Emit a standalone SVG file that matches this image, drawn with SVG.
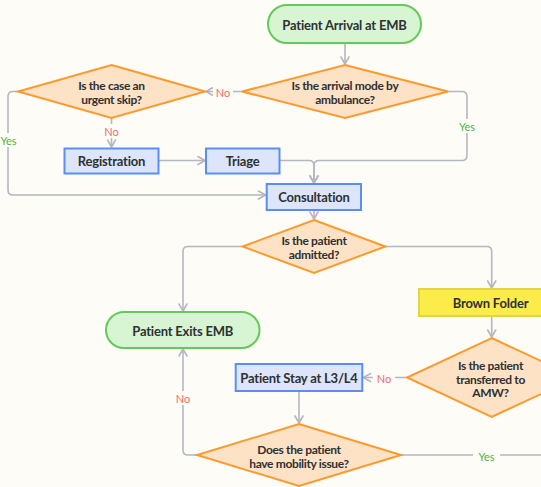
<svg xmlns="http://www.w3.org/2000/svg" width="541" height="487" viewBox="0 0 541 487">
<defs>
<marker id="arr" viewBox="0 0 10 10" refX="9" refY="5" markerWidth="10" markerHeight="10" markerUnits="userSpaceOnUse" orient="auto">
<path d="M2,1 L9,5 L2,9" fill="none" stroke="#b3b7bf" stroke-width="1.6" stroke-linecap="round" stroke-linejoin="round"/>
</marker>
<style>
.term{fill:#d7f5d3;stroke:#64c95a;stroke-width:2}
.dec{fill:#fde2c6;stroke:#fd9a2e;stroke-width:2;stroke-linejoin:miter}
.proc{fill:#dde5fb;stroke:#5b8ef2;stroke-width:2}
.yel{fill:#fbec4a;stroke:#e2d445;stroke-width:2}
.t{font-family:Lato,"Noto Sans",sans-serif;font-weight:700;fill:#2e3033;text-anchor:middle;dominant-baseline:central}
.n{font-size:13px;letter-spacing:-0.2px}
.d{font-size:12px;letter-spacing:-0.35px}
.c{fill:none;stroke:#b3b7bf;stroke-width:1.6;marker-end:url(#arr)}
.cn{fill:none;stroke:#b3b7bf;stroke-width:1.6}
.lb{font-family:Lato,"Noto Sans",sans-serif;font-size:11px;text-anchor:middle;dominant-baseline:central}
.no{fill:#f26b6b}
.yes{fill:#4cb54a}
.bg{fill:#fdfcf7}
</style>
</defs>
<rect class="bg" x="0" y="0" width="541" height="487"/>
<g id="connectors">
<path class="c" d="M345,43 V64"/>
<path class="c" d="M242,91.5 H206"/>
<path class="c" d="M448,91.5 H462 Q467,91.5 467,96.5 V155.5 Q467,160.5 462,160.5 H319 Q314,160.5 314,165.5 V183"/>
<path class="c" d="M280,160.5 H309 Q314,160.5 314,165.5 V183"/>
<path class="c" d="M111.5,118 V147"/>
<path class="c" d="M18,91.5 H13 Q8,91.5 8,96.5 V190 Q8,195 13,195 H265.5"/>
<path class="c" d="M159,160.5 H205"/>
<path class="c" d="M314,210 V219"/>
<path class="c" d="M242.6,246.5 H188 Q183,246.5 183,251.5 V311"/>
<path class="c" d="M385.4,246.5 H486.7 Q491.7,246.5 491.7,251.5 V288"/>
<path class="c" d="M491.7,316 V337"/>
<path class="c" d="M407,377.5 H363.5"/>
<path class="c" d="M299,391 V423"/>
<path class="c" d="M197,455 H188 Q183,455 183,450 V349"/>
<path class="cn" d="M401,455 H541"/>
<rect class="bg" x="213" y="85" width="20" height="14"/>
<text class="lb no" x="223" y="92">No</text>
<rect class="bg" x="455" y="119" width="24" height="14"/>
<text class="lb yes" x="467" y="126">Yes</text>
<rect class="bg" x="101" y="124" width="21" height="14"/>
<text class="lb no" x="111.5" y="131">No</text>
<rect class="bg" x="0" y="133" width="20" height="14"/>
<text class="lb yes" x="8.5" y="140">Yes</text>
<rect class="bg" x="373" y="371" width="22" height="14"/>
<text class="lb no" x="384" y="378">No</text>
<rect class="bg" x="173" y="391" width="20" height="14"/>
<text class="lb no" x="183" y="398">No</text>
<rect class="bg" x="473" y="449" width="27" height="14"/>
<text class="lb yes" x="486.5" y="456">Yes</text>
</g>
<g id="start">
<rect class="term" x="268" y="5" width="153" height="38" rx="19"/>
<text class="t n" x="344.5" y="24.5">Patient Arrival at EMB</text>
</g>
<g id="ambulance">
<polygon class="dec" points="345,65 448,91.5 345,118 242,91.5"/>
<text class="t d" x="345" y="85.5">Is the arrival mode by</text>
<text class="t d" x="345" y="99">ambulance?</text>
</g>
<g id="urgent">
<polygon class="dec" points="111.5,65 205,91.5 111.5,118 18,91.5"/>
<text class="t d" x="111.5" y="85.5">Is the case an</text>
<text class="t d" x="111.5" y="99">urgent skip?</text>
</g>
<g id="registration">
<rect class="proc" x="64.5" y="148.5" width="94" height="25"/>
<text class="t n" x="111.5" y="161">Registration</text>
</g>
<g id="triage">
<rect class="proc" x="206" y="148.5" width="73.5" height="25"/>
<text class="t n" x="242.7" y="161">Triage</text>
</g>
<g id="consultation">
<rect class="proc" x="266.7" y="184" width="94.3" height="26"/>
<text class="t n" x="314" y="197">Consultation</text>
</g>
<g id="admitted">
<polygon class="dec" points="314,220 385.4,246.5 314,273 242.6,246.5"/>
<text class="t d" x="314" y="240.5">Is the patient</text>
<text class="t d" x="314" y="254">admitted?</text>
</g>
<g id="brown">
<rect class="yel" x="419" y="289" width="146" height="27"/>
<text class="t n" x="490.5" y="302.5">Brown Folder</text>
</g>
<g id="exits">
<rect class="term" x="106" y="312" width="153.5" height="36" rx="18"/>
<text class="t n" x="182.7" y="330.5">Patient Exits EMB</text>
</g>
<g id="transferred">
<polygon class="dec" points="491.7,338 576.4,377.5 491.7,417 407,377.5"/>
<text class="t d" x="490.5" y="365.5">Is the patient</text>
<text class="t d" x="490.5" y="379">transferred to</text>
<text class="t d" x="490.5" y="392.5">AMW?</text>
</g>
<g id="stay">
<rect class="proc" x="235.7" y="364" width="126.6" height="27"/>
<text class="t n" x="299" y="377.5">Patient Stay at L3/L4</text>
</g>
<g id="mobility">
<polygon class="dec" points="299,424 401,455 299,486 197,455"/>
<text class="t d" x="299" y="449.5">Does the patient</text>
<text class="t d" x="299" y="463">have mobility issue?</text>
</g>
</svg>
